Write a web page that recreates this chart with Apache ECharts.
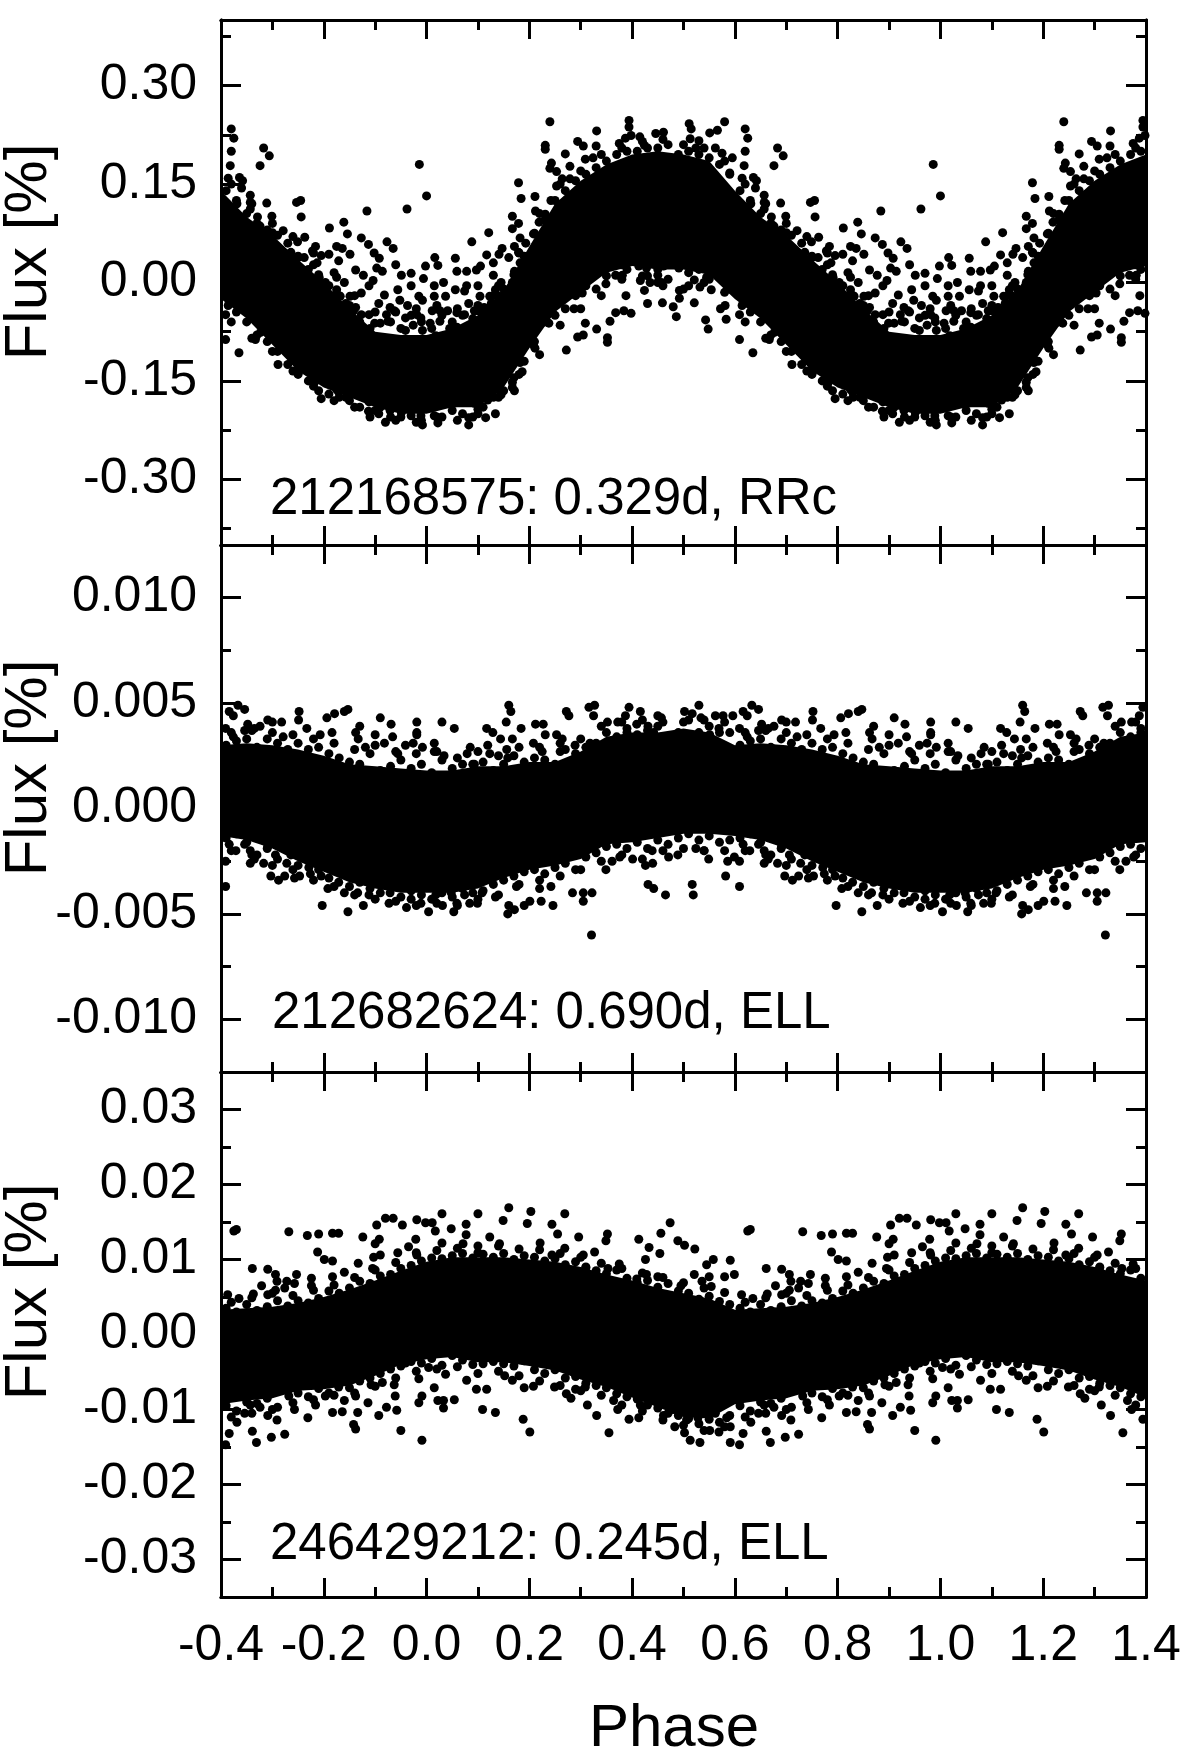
<!DOCTYPE html>
<html><head><meta charset="utf-8">
<style>html,body{margin:0;padding:0;background:#fff}#c{width:1200px;height:1752px}</style>
<script src="https://cdn.jsdelivr.net/npm/echarts@6/dist/echarts.min.js"></script>
</head><body><div id="c"></div>
<script>
// Points below are hand-read estimates of the visible dots and of the edge of the dot cloud (one phase cycle, -0.4..0.6).
// The chart is phase-folded: the picture repeats with period 1, so each dot is also drawn at phase+1.
// The dense core where dots merge and cannot be read singly is drawn as an envelope (upper/lower).
const xMajor=[-0.4,-0.2,0,0.2,0.4,0.6,0.8,1,1.2,1.4];
const xMinor=[-0.3,-0.1,0.1,0.3,0.5,0.7,0.9,1.1,1.3];
const labels=["212168575: 0.329d, RRc","212682624: 0.690d, ELL","246429212: 0.245d, ELL"];
const y1Major=[-0.3,-0.15,0,0.15,0.3], y1Minor=[-0.375,-0.225,-0.075,0.075,0.225,0.375];
const y2Major=[-0.01,-0.005,0,0.005,0.01], y2Minor=[-0.0075,-0.0025,0.0025,0.0075];
const y3Major=[-0.03,-0.02,-0.01,0,0.01,0.02,0.03], y3Minor=[-0.025,-0.015,-0.005,0.005,0.015,0.025];
const corePhase=[-0.4,-0.35,-0.3,-0.25,-0.2,-0.15,-0.1,-0.05,0,0.05,0.1,0.15,0.2,0.25,0.3,0.35,0.4,0.45,0.5,0.55,0.6];
const core1Upper=[0.14,0.1,0.072,0.035,0,-0.04,-0.075,-0.08,-0.08,-0.07,-0.05,-0.012,0.055,0.12,0.155,0.18,0.195,0.2,0.195,0.185,0.14];
const core1Lower=[-0.025,-0.055,-0.095,-0.135,-0.16,-0.175,-0.19,-0.2,-0.2,-0.19,-0.19,-0.16,-0.1,-0.045,-0.015,0.015,0.025,0.02,0.02,0.012,-0.025];
const core2Upper=[0.003,0.0031,0.003,0.0028,0.0025,0.0021,0.002,0.0019,0.0018,0.0018,0.002,0.002,0.0022,0.0022,0.0027,0.0034,0.0036,0.0036,0.0038,0.0036,0.003];
const core2Lower=[-0.0013,-0.0015,-0.0019,-0.0025,-0.003,-0.0035,-0.0038,-0.004,-0.004,-0.004,-0.0038,-0.0033,-0.0029,-0.0027,-0.0024,-0.0017,-0.0016,-0.0014,-0.0012,-0.0012,-0.0013];
const core3Upper=[0.0033,0.0035,0.0037,0.0042,0.005,0.006,0.0072,0.0085,0.0097,0.0103,0.0103,0.0103,0.01,0.0097,0.009,0.008,0.0072,0.0062,0.0055,0.0048,0.0033];
const core3Lower=[-0.0093,-0.0088,-0.0085,-0.0075,-0.0073,-0.0068,-0.0055,-0.004,-0.0033,-0.003,-0.0037,-0.0037,-0.0042,-0.0048,-0.006,-0.007,-0.0084,-0.0097,-0.011,-0.0112,-0.0093];
const dots1=[[-.38,.234],[-.375,.22],[-.38,.2],[-.382,.178],[-.386,.159],[-.364,.16],[-.358,.155],[-.36,.144],[-.343,.133],[-.343,.122],[-.369,.12],[-.343,.112],[-.311,.121],[-.329,.1],[-.301,.101],[-.324,.086],[-.3,.076],[-.279,.079],[-.253,.122],[-.245,.125],[-.244,.1],[-.317,.205],[-.306,.193],[-.324,.178],[-.237,.069],[-.251,.062],[-.264,.046],[-.216,.055],[-.222,.048],[-.238,.038],[-.25,.038],[-.189,.083],[-.161,.092],[-.154,.074],[-.116,.109],[-.038,.112],[-.014,.18],[0,.132],[-.127,.068],[-.113,.058],[-.102,.045],[-.092,.037],[-.077,.062],[-.065,.052],[-.205,.041],[-.19,.043],[-.175,.055],[-.164,.052],[-.149,.043],[-.22,.027],[-.213,.03],[-.171,.033],[-.209,.008],[-.197,0],[-.175,.008],[-.16,0],[-.175,-.011],[-.138,.019],[-.123,.011],[-.104,.003],[-.086,.017],[-.097,.022],[-.112,-.005],[-.149,-.021],[-.127,-.016],[-.138,-.038],[-.093,-.032],[-.082,-.019],[-.06,.027],[-.049,.011],[-.03,.014],[-.056,-.011],[-.037,-.035],[-.071,-.038],[.016,.038],[-.002,.025],[.022,.026],[-.006,.006],[.015,-.005],[.033,0],[.015,-.021],[.037,-.021],[-.008,-.027],[.011,-.043],[-.041,-.054],[-.011,-.054],[.026,-.059],[-.041,-.073],[.018,-.081],[.056,.037],[.059,.017],[.078,.017],[.097,.019],[.105,.025],[.088,.062],[.121,.076],[.117,.042],[.141,.043],[.147,.052],[.13,.03],[.078,-.005],[.1,-.005],[.056,-.011],[.074,-.013],[.104,-.021],[.123,-.021],[.082,-.032],[.1,-.043],[.13,.011],[.145,0],[.167,.101],[.179,.09],[.167,.082],[.179,.152],[.184,.128],[.211,.131],[.182,.068],[.171,.055],[.179,.046],[.16,.038],[.182,.03],[.231,.209],[.231,.203],[.24,.245],[.27,.196],[.243,.182],[.24,.174],[.279,.177],[.253,.169],[.294,.215],[.305,.208],[.331,.231],[.33,.208],[.309,.188],[.324,.19],[.272,-.103],[.294,-.083],[.305,-.08],[.309,-.062],[.331,-.071],[.303,-.016],[.287,-.04],[.238,-.062],[.22,-.046],[.242,-.024],[.227,-.016],[.205,-.092],[.211,-.1],[.186,-.097],[.167,-.114],[.171,-.165],[.167,-.16],[.145,-.171],[.134,-.2],[.115,-.206],[.082,-.217],[.022,-.214],[-.008,-.217],[-.08,-.213],[-.093,-.2],[-.113,-.196],[-.049,-.198],[-.03,-.203],[-.011,-.203],[.015,-.203],[.082,-.206],[.1,-.193],[-.157,-.175],[-.171,-.167],[-.205,-.177],[-.218,-.152],[-.25,-.138],[-.261,-.119],[-.289,-.125],[-.333,-.087],[-.323,-.076],[-.365,-.107],[-.391,-.087],[-.391,-.049],[-.386,-.035],[-.354,-.038],[-.339,-.054],[-.287,-.089],[-.276,-.1],[-.235,-.114],[-.227,-.13],[-.19,-.144],[-.175,-.163],[-.127,-.168],[-.112,-.182],[-.071,-.195],[-.034,-.179],[.093,-.184],[.119,-.179],[.134,-.163],[.167,-.152],[.182,-.122],[.186,-.136],[.208,-.095],[.394,.247],[.394,.237],[.398,.224],[.415,.222],[.375,.212],[.387,.22],[.446,.227],[.461,.229],[.424,.209],[.511,.242],[.515,.234],[.513,.219],[.53,.216],[.524,.205],[.551,.228],[.566,.232],[.58,.245],[.562,.205],[.575,.197],[.595,.19],[.59,.167],[.352,-.091],[.352,-.084],[.357,-.059],[.368,-.046],[.384,-.043],[.398,-.047],[.388,-.02],[.416,.003],[.424,-.012],[.43,-.032],[.459,-.031],[.45,0],[.48,-.037],[.492,-.024],[.492,-.012],[.521,-.031],[.486,-.052],[.543,-.057],[.548,-.071],[.572,-.04],[.581,-.035],[.583,-.056],[.51,-.005],[.532,-.007],[.554,-.011],[.545,.008],[.521,.004],[.599,-.001],[.413,.025],[.428,.022],[.446,.034],[.461,.025],[.45,.011],[.435,0],[.457,0],[.381,.011],[.368,.011],[.349,-.002],[.379,.027],[.491,.022],[.517,.027],[.53,.025],[.562,.025],[.577,.006],
[-.197,-.011],[-.183,-.021],[-.168,-.021],[-.157,-.032],[-.142,-.043],[-.127,-.049],[-.112,-.049],[-.101,-.062],[-.078,-.049],[-.063,-.043],[-.075,-.059],[-.052,-.027],[-.03,-.005],[-.015,-.021],[-.019,-.049],[-.026,-.065],[-.008,-.073],[.007,-.062],[.026,-.043],[.041,-.043],[.059,-.046],[.074,-.049],[.045,-.07],[.059,-.068],[.093,-.043],[.112,-.038],[.126,-.032],[.141,-.021],[.152,-.011],[.134,-.011],[.167,0],[.171,.017],[.186,.027],[.201,.038],[.193,.06],[.208,.074],[.219,.092],[.231,.104],[.212,.109],[.242,.125],[.264,.158],[.279,.158],[.253,.147]];
const edge1=[[-.39,.14],[-.37,.125],[-.35,.105],[-.33,.09],[-.31,.08],[-.29,.072],[-.27,.06],[-.25,.04],[-.23,.02],[-.21,.012],[-.19,-.005],[-.17,-.02],[-.15,-.035],[-.13,-.06],[-.11,-.07],[-.09,-.062],[-.07,-.06],[-.05,-.07],[-.03,-.05],[-.01,-.06],[.01,-.07],[.03,-.05],[.05,-.06],[.07,-.05],[.09,-.055],[.11,-.04],[.13,-.02],[.15,-.01],[.17,.012],[.19,.04],[.21,.075],[.23,.095],[.25,.125],[.27,.14],[.29,.155],[.31,.165],[.33,.175],[.35,.185],[.37,.195],[.39,.2],[.41,.2],[.43,.205],[.45,.205],[.47,.21],[.49,.195],[.51,.2],[.53,.195],[.55,.19],[.57,.18],[.59,.165],
[-.39,-.02],[-.37,-.045],[-.35,-.06],[-.33,-.08],[-.31,-.09],[-.29,-.105],[-.27,-.125],[-.25,-.14],[-.23,-.15],[-.21,-.165],[-.19,-.17],[-.17,-.175],[-.15,-.18],[-.13,-.19],[-.11,-.205],[-.09,-.19],[-.07,-.205],[-.05,-.205],[-.03,-.195],[-.01,-.21],[.01,-.19],[.03,-.205],[.05,-.195],[.07,-.2],[.09,-.205],[.11,-.19],[.13,-.175],[.15,-.165],[.17,-.145],[.19,-.12],[.21,-.09],[.23,-.06],[.25,-.05],[.27,-.04],[.29,-.02],[.31,-.005],[.33,-.01],[.35,.01],[.37,.03],[.39,.02],[.41,.035],[.43,.01],[.45,.02],[.47,.005],[.49,.03],[.51,.015],[.53,.02],[.55,.005],[.57,.01],[.59,-.01],
[-.38,.15],[-.34,.12],[-.3,.09],[-.26,.07],[-.22,.045],[-.18,.015],[-.14,-.02],[-.1,-.045],[-.06,-.045],[-.02,-.04],[.02,-.035],[.06,-.04],[.1,-.035],[.14,-.005],[.18,.045],[.22,.105],[.26,.15],[.3,.17],[.34,.195],[.38,.205],[.42,.215],[.46,.218],[.5,.21],[.54,.205],[.58,.185],
[-.38,-.06],[-.34,-.085],[-.3,-.105],[-.26,-.135],[-.22,-.158],[-.18,-.18],[-.14,-.19],[-.1,-.195],[-.06,-.21],[-.02,-.213],[.02,-.205],[.06,-.21],[.1,-.2],[.14,-.175],[.18,-.14],[.22,-.11],[.26,-.065],[.3,-.04],[.34,-.02],[.38,.005],[.42,.01],[.46,-.005],[.5,-.01],[.54,0],[.58,-.015]];
const dots2=[[-.367,.0049],[-.354,.0047],[-.384,.0046],[-.391,.0038],[-.376,.0044],[-.348,.004],[-.324,.0039],[-.309,.0042],[-.3,.0041],[-.282,.0041],[-.354,.0037],[-.376,.0034],[-.335,.0038],[-.279,.0034],[-.248,.0046],[-.249,.0042],[-.233,.0038],[-.194,.0043],[-.179,.0045],[-.16,.0046],[-.153,.0047],[-.184,.0036],[-.207,.0035],[-.13,.0039],[-.138,.0036],[-.133,.0033],[-.09,.0043],[-.069,.004],[-.1,.0035],[-.066,.0034],[-.082,.0031],[-.119,.0029],[-.019,.0041],[-.019,.0036],[-.019,.0035],[-.026,.0031],[-.008,.0029],[-.041,.003],[-.056,.0026],[.03,.0041],[.054,.0038],[.015,.0031],[.015,.0027],[.034,.0025],[.085,.0029],[.079,.0026],[.093,.0021],[.119,.003],[.123,.0026],[.117,.0038],[.129,.0036],[.144,.0033],[.16,.0049],[.164,.0046],[.155,.0041],[.184,.0038],[.167,.0033],[.156,.0028],[.158,.0024],[.212,.004],[.227,.004],[.231,.0035],[.208,.0031],[.225,.0027],[.253,.0035],[.264,.0033],[.26,.0027],[.272,.0046],[.277,.0044],[.289,.003],[.316,.0048],[.327,.0049],[.325,.0044],[.318,.0031],[.394,.0048],[.387,.0044],[.416,.0046],[.352,.0041],[.372,.0041],[.45,.0044],[.457,.0043],[.409,.004],[.431,.0039],[.502,.0046],[.517,.0045],[.53,.0049],[.534,.0043],[.562,.0044],[.577,.0044],[.596,.0044],[.39,.0036],[.42,.003],[.442,.0036],[.472,.0034],[.506,.0035],[.551,.0035],[.569,.0038],[-.391,-.0037],[-.391,-.0025],[-.371,-.002],[-.343,-.0026],[-.317,-.0026],[-.335,-.0024],[-.303,-.0032],[-.288,-.0034],[-.276,-.0032],[-.257,-.0033],[-.247,-.0032],[-.229,-.0028],[-.226,-.0031],[-.203,-.0046],[-.153,-.0049],[-.192,-.0038],[-.205,-.0032],[-.171,-.0035],[-.16,-.004],[-.134,-.004],[-.112,-.0041],[-.123,-.0046],[-.073,-.0045],[-.039,-.0047],[-.03,-.0043],[-.011,-.0045],[.004,-.0049],[.031,-.0046],[.053,-.0049],[.059,-.0045],[.084,-.0045],[.099,-.0045],[.134,-.0042],[.158,-.005],[.171,-.0048],[.19,-.0046],[.201,-.0044],[.16,-.0046],[.223,-.0044],[.246,-.0046],[.284,-.004],[.305,-.004],[.305,-.0044],[.322,-.004],[.321,-.006],[.175,-.0037],[.22,-.0038],[.242,-.0037],[-.071,-.004],[.018,-.0041],[.074,-.0041],[.108,-.004],[.048,-.004],[-.034,-.0038],[-.093,-.0035],[-.145,-.0033],[-.294,-.0022],[-.272,-.0026],[-.264,-.0022],[-.354,-.0017],[-.384,-.0017],[-.343,-.002],[-.309,-.0018],[-.283,-.0017],[.431,-.0036],[.442,-.0038],[.465,-.0041],[.517,-.0036],[.519,-.0041],[.582,-.0032],[.349,-.0029],[.361,-.0025],[.376,-.0023],[.401,-.0024],[.426,-.0027],[.44,-.0026],[.471,-.0023],[.489,-.0022],[.524,-.0019],[.549,-.0024],[.586,-.0025],[.599,-.0023],[.439,-.002],[.54,-.002]];
const edge2=[[-.39,.003],[-.37,.0032],[-.35,.0033],[-.33,.0029],[-.31,.0033],[-.29,.0031],[-.27,.0028],[-.25,.0031],[-.23,.0028],[-.21,.0029],[-.19,.0026],[-.17,.0024],[-.15,.0022],[-.13,.0021],[-.11,.0026],[-.09,.0018],[-.07,.002],[-.05,.0023],[-.03,.0019],[-.01,.0021],[.01,.0017],[.03,.0023],[.05,.0019],[.07,.0021],[.09,.0021],[.11,.0022],[.13,.0018],[.15,.0021],[.17,.0025],[.19,.0022],[.21,.0024],[.23,.0023],[.25,.0021],[.27,.0028],[.29,.0026],[.31,.0029],[.33,.0031],[.35,.0036],[.37,.0034],[.39,.0038],[.41,.0035],[.43,.0037],[.45,.0039],[.47,.0034],[.49,.0036],[.51,.0042],[.53,.0036],[.55,.0039],[.57,.0036],[.59,.0036],
[-.39,-.0014],[-.37,-.0012],[-.35,-.0016],[-.33,-.0022],[-.31,-.0019],[-.29,-.0024],[-.27,-.0018],[-.25,-.0027],[-.23,-.0023],[-.21,-.0029],[-.19,-.0033],[-.17,-.0029],[-.15,-.0037],[-.13,-.0035],[-.11,-.0038],[-.09,-.004],[-.07,-.0037],[-.05,-.0042],[-.03,-.0039],[-.01,-.0041],[.01,-.0043],[.03,-.004],[.05,-.0042],[.07,-.0038],[.09,-.004],[.11,-.0039],[.13,-.0036],[.15,-.0034],[.17,-.0032],[.19,-.003],[.21,-.0029],[.23,-.0031],[.25,-.0028],[.27,-.0026],[.29,-.0029],[.31,-.0023],[.33,-.0021],[.35,-.0018],[.37,-.0017],[.39,-.0019],[.41,-.0016],[.43,-.0019],[.45,-.0015],[.47,-.0017],[.49,-.0014],[.51,-.0012],[.53,-.0015],[.55,-.0013],[.57,-.0016],[.59,-.0015],
[-.38,.0036],[-.34,.0037],[-.3,.0036],[-.26,.0035],[-.22,.0033],[-.18,.0031],[-.14,.0028],[-.1,.003],[-.06,.0027],[-.02,.0026],[.02,.0027],[.06,.0024],[.1,.0027],[.14,.0025],[.18,.0029],[.22,.0029],[.26,.0031],[.3,.0033],[.34,.0039],[.38,.0041],[.42,.0042],[.46,.0041],[.5,.0041],[.54,.0042],[.58,.0041],
[-.38,-.002],[-.34,-.0022],[-.3,-.0027],[-.26,-.0029],[-.22,-.0034],[-.18,-.0037],[-.14,-.0041],[-.1,-.0043],[-.06,-.0044],[-.02,-.0046],[.02,-.0045],[.06,-.0046],[.1,-.0043],[.14,-.0041],[.18,-.0036],[.22,-.0034],[.26,-.0032],[.3,-.0029],[.34,-.0025],[.38,-.0022],[.42,-.0024],[.46,-.002],[.5,-.0019],[.54,-.002],[.58,-.002]];
const dots3=[[-.375,.0138],[-.37,.014],[-.339,.0088],[-.309,.0087],[-.294,.008],[-.291,.0071],[-.387,.0053],[-.365,.0048],[-.337,.0054],[-.321,.0065],[-.309,.0053],[-.294,.0059],[-.276,.0062],[-.272,.0071],[-.253,.008],[-.257,.0068],[-.224,.0075],[-.224,.0065],[-.268,.0137],[-.232,.0132],[-.21,.0134],[-.183,.0135],[-.171,.0135],[-.124,.013],[-.212,.011],[-.199,.01],[-.183,.0098],[-.183,.0077],[-.16,.0083],[-.133,.0095],[-.097,.0146],[-.08,.0155],[-.065,.0155],[-.047,.0146],[-.092,.0127],[-.1,.0121],[-.09,.0106],[-.103,.0103],[-.105,.0088],[-.056,.0109],[-.019,.0153],[-.002,.0149],[.011,.0149],[.017,.0138],[.03,.0161],[.048,.0141],[.077,.0147],[.077,.0133],[.03,.0122],[-.021,.0127],[-.035,.0117],[-.019,.0106],[.071,.0121],[.1,.0161],[.149,.0152],[.16,.0169],[.196,.0148],[.203,.0164],[.244,.0147],[.269,.0161],[.255,.0134],[.296,.013],[.123,.013],[.142,.0121],[.1,.0109],[.221,.0122],[.244,.0106],[.269,.0115],[.305,.0106],[.327,.011],[.31,.009],[.352,.0134],[.349,.0125],[.413,.0127],[.433,.0116],[.454,.0108],[.426,.01],[.456,.0135],[.474,.0149],[.489,.0125],[.502,.0119],[.522,.0114],[.545,.0093],[.558,.01],[.521,.008],[.55,.0077],[.58,.0077],[.591,.0099],[.599,.008],[.375,.0094],[.353,.0088],[.428,.008],[.45,.0077],[.409,.0074],[.495,.0065],[.536,.0071],[.554,.0064],[-.384,-.0132],[-.391,-.0147],[-.369,-.0117],[-.339,-.0129],[-.331,-.0144],[-.302,-.0137],[-.276,-.0133],[-.291,-.0114],[-.309,-.0108],[-.354,-.0105],[-.343,-.0094],[-.324,-.0097],[-.257,-.01],[-.231,-.0111],[-.216,-.0094],[-.268,-.0082],[-.197,-.0082],[-.183,-.0104],[-.164,-.0103],[-.142,-.012],[-.138,-.0126],[-.134,-.0104],[-.093,-.0108],[-.114,-.0091],[-.078,-.0097],[-.058,-.0101],[-.05,-.0128],[-.009,-.0141],[-.015,-.0091],[-.009,-.0082],[-.061,-.0082],[-.015,-.0059],[.015,-.0071],[.022,-.0088],[.033,-.0088],[.033,-.0098],[.054,-.0087],[.109,-.01],[.134,-.0104],[.117,-.0073],[.097,-.0073],[.188,-.0113],[.201,-.013],[.19,-.0071],[.208,-.0069],[.249,-.007],[.272,-.0079],[.281,-.0085],[.29,-.0073],[.309,-.007],[.313,-.0094],[.331,-.0108],[.078,-.0061],[.152,-.0055],[.167,-.0061],[.037,-.0053],[.004,-.0044],[-.041,-.0038],[-.086,-.0064],[-.108,-.0067],[-.063,-.0067],[-.16,-.0088],[-.171,-.007],[-.138,-.0082],[.355,-.0131],[.394,-.0113],[.413,-.0111],[.372,-.01],[.364,-.0088],[.416,-.0094],[.461,-.0108],[.483,-.0123],[.502,-.0131],[.513,-.0141],[.532,-.0144],[.551,-.0128],[.569,-.013],[.591,-.0144],[.591,-.0123],[.584,-.0111],[.506,-.0114],[.528,-.0111],[.45,-.0091],[.48,-.01],[.543,-.01],[.562,-.0105]];
const edge3=[[-.39,.0035],[-.37,.003],[-.35,.004],[-.33,.0032],[-.31,.0037],[-.29,.0045],[-.27,.0038],[-.25,.0045],[-.23,.0042],[-.21,.0048],[-.19,.0058],[-.17,.0055],[-.15,.0062],[-.13,.0071],[-.11,.0068],[-.09,.0078],[-.07,.008],[-.05,.0088],[-.03,.0092],[-.01,.0098],[.01,.0102],[.03,.0101],[.05,.0105],[.07,.0108],[.09,.0102],[.11,.0107],[.13,.0103],[.15,.0108],[.17,.01],[.19,.0105],[.21,.0103],[.23,.0098],[.25,.0101],[.27,.0093],[.29,.0097],[.31,.0089],[.33,.0085],[.35,.0081],[.37,.0086],[.39,.0075],[.41,.0069],[.43,.0072],[.45,.0063],[.47,.0068],[.49,.0058],[.51,.0055],[.53,.0047],[.55,.0051],[.57,.0044],[.59,.004],
[-.39,-.0095],[-.37,-.0102],[-.35,-.009],[-.33,-.0092],[-.31,-.0085],[-.29,-.0097],[-.27,-.0075],[-.25,-.0078],[-.23,-.0083],[-.21,-.0072],[-.19,-.0078],[-.17,-.0066],[-.15,-.0071],[-.13,-.0062],[-.11,-.0058],[-.09,-.0052],[-.07,-.0046],[-.05,-.0042],[-.03,-.0036],[-.01,-.0038],[.01,-.0032],[.03,-.0041],[.05,-.0028],[.07,-.0034],[.09,-.004],[.11,-.0039],[.13,-.0036],[.15,-.0039],[.17,-.0042],[.19,-.0035],[.21,-.0047],[.23,-.0052],[.25,-.0047],[.27,-.0058],[.29,-.0056],[.31,-.0065],[.33,-.0068],[.35,-.0071],[.37,-.0079],[.39,-.0083],[.41,-.0086],[.43,-.0094],[.45,-.0098],[.47,-.0105],[.49,-.0108],[.51,-.0112],[.53,-.0119],[.55,-.0113],[.57,-.0117],[.59,-.0108],
[-.38,.0043],[-.34,.0049],[-.3,.0055],[-.26,.0052],[-.22,.0059],[-.18,.0066],[-.14,.0076],[-.1,.0086],[-.06,.0096],[-.02,.0109],[.02,.0112],[.06,.0115],[.1,.0118],[.14,.0118],[.18,.0114],[.22,.0113],[.26,.0108],[.3,.0103],[.34,.0095],[.38,.0088],[.42,.0082],[.46,.0076],[.5,.0069],[.54,.0062],[.58,.0056],
[-.38,-.011],[-.34,-.0105],[-.3,-.01],[-.26,-.0091],[-.22,-.0087],[-.18,-.0081],[-.14,-.0078],[-.1,-.0069],[-.06,-.0058],[-.02,-.0049],[.02,-.0046],[.06,-.0043],[.1,-.0052],[.14,-.0049],[.18,-.0055],[.22,-.0062],[.26,-.0068],[.3,-.0075],[.34,-.0081],[.38,-.0094],[.42,-.0102],[.46,-.0114],[.5,-.0121],[.54,-.0128],[.58,-.0123]];

const INK='#000', FONT='"Liberation Sans", Arial, sans-serif';
const panels=[
 {top:20,h:525,max:0.4,major:y1Major,minor:y1Minor,dots:dots1.concat(edge1),up:core1Upper,lo:core1Lower,fmt:2},
 {top:545,h:527,max:0.0125,major:y2Major,minor:y2Minor,dots:dots2.concat(edge2),up:core2Upper,lo:core2Lower,fmt:3},
 {top:1072,h:525,max:0.035,major:y3Major,minor:y3Minor,dots:dots3.concat(edge3),up:core3Upper,lo:core3Lower,fmt:2}
];
const fold=pts=>pts.flatMap(([x,y])=>x+1<=1.4?[[x,y],[x+1,y]]:[[x,y]]);
const line={lineStyle:{color:INK,width:3}};
const grid=[],xAxis=[],yAxis=[],series=[],graphic=[];
panels.forEach((p,i)=>{
  grid.push({left:221,width:925,top:p.top,height:p.h});
  const gi=i, xi=xAxis.length, yi=yAxis.length;
  [['bottom',xMajor,19],['bottom',xMinor,10],['top',xMajor,19],['top',xMinor,10]].forEach(([pos,vals,len],k)=>{
    xAxis.push({type:'value',gridIndex:gi,position:pos,min:-0.4,max:1.4,z:10,splitLine:{show:false},
      axisLine:{show:true,onZero:false,...line},
      axisTick:{show:true,inside:true,length:len,customValues:vals,lineStyle:{color:INK,width:3}},
      axisLabel:(i===2&&k===0)?{show:true,customValues:xMajor,formatter:v=>v.toFixed(1),margin:24,fontSize:50,color:INK,fontFamily:FONT,hideOverlap:false,showMinLabel:true,showMaxLabel:true}:{show:false}});
  });
  [['left',p.major,20],['left',p.minor,10],['right',p.major,20],['right',p.minor,10]].forEach(([pos,vals,len],k)=>{
    yAxis.push({type:'value',gridIndex:gi,position:pos,min:-p.max,max:p.max,z:10,splitLine:{show:false},
      axisLine:{show:true,onZero:false,...line},
      axisTick:{show:true,inside:true,length:len,customValues:vals,lineStyle:{color:INK,width:3}},
      axisLabel:k===0?{show:true,customValues:p.major,formatter:v=>v.toFixed(p.fmt),margin:24,fontSize:50,color:INK,fontFamily:FONT,hideOverlap:false}:{show:false}});
  });
  const upper=[...corePhase.map((x,j)=>[x,p.up[j]]),...corePhase.slice(1).filter(x=>x+1<=1.4).map(x=>[x+1,p.up[corePhase.indexOf(x)]])];
  const lower=[...corePhase.map((x,j)=>[x,p.lo[j]]),...corePhase.slice(1).filter(x=>x+1<=1.4).map(x=>[x+1,p.lo[corePhase.indexOf(x)]])];
  series.push({type:'custom',coordinateSystem:'cartesian2d',xAxisIndex:xi,yAxisIndex:yi,z:2,silent:true,clip:true,
    data:[[0,0]],encode:{x:0,y:1},
    renderItem:(params,api)=>({type:'polygon',shape:{points:[...upper,...lower.slice().reverse()].map(c=>api.coord(c))},style:{fill:INK}})});
  series.push({type:'scatter',xAxisIndex:xi,yAxisIndex:yi,z:3,symbol:'circle',symbolSize:9,clip:true,silent:true,large:false,
    itemStyle:{color:INK,opacity:1},data:fold(p.dots)});
});
const txt=(text,x,y,size,extra)=>({type:'text',x,y,z:20,silent:true,...extra,style:{text,fontSize:size,fontFamily:FONT,fill:INK,textAlign:(extra&&extra.ta)||'left',textVerticalAlign:'middle'}});
graphic.push(txt(labels[0],270,500,51));
graphic.push(txt(labels[1],272,1014,51));
graphic.push(txt(labels[2],270,1545,51));
[252,768,1292].forEach(y=>graphic.push(txt('Flux [%]',29,y,60,{rotation:Math.PI/2,ta:'center'})));
graphic.push(txt('Phase',674,1729,60,{ta:'center'}));
const chart=echarts.init(document.getElementById('c'),null,{renderer:'canvas'});
chart.setOption({animation:false,backgroundColor:'#fff',grid,xAxis,yAxis,series,graphic});
</script></body></html>
